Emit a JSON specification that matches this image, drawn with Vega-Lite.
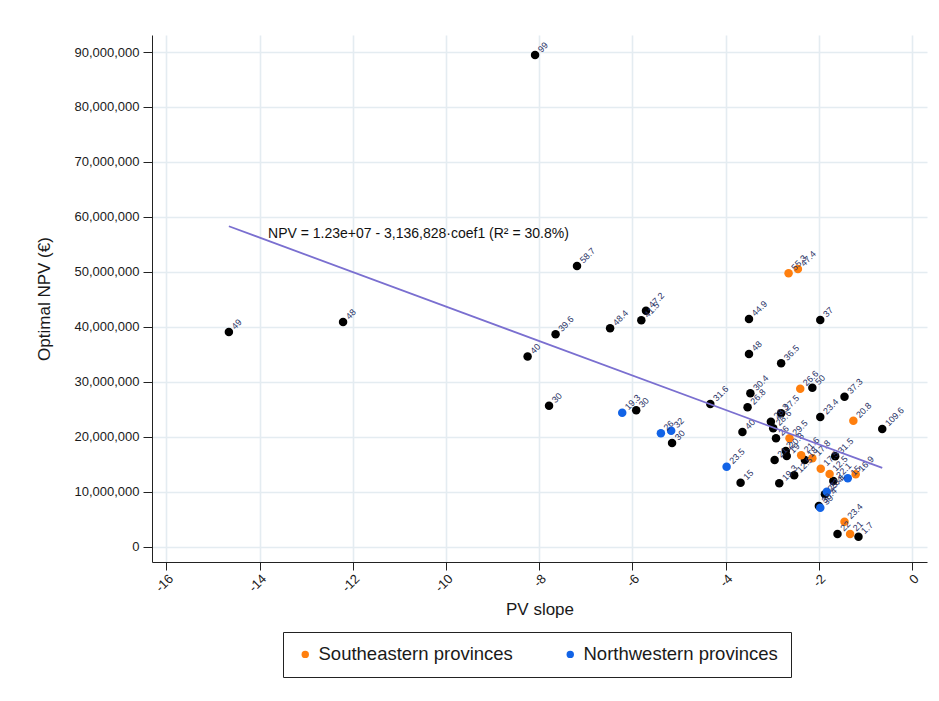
{
  "$schema": "https://vega.github.io/schema/vega-lite/v6.json",
  "width": 775,
  "height": 527,
  "autosize": {"type": "none"},
  "padding": {"left": 152, "top": 35, "right": 12, "bottom": 139},
  "background": "white",
  "config": {
    "font": "Liberation Sans",
    "view": {"stroke": null},
    "axis": {
      "domainColor": "#222222",
      "tickColor": "#222222",
      "gridColor": "#e4ecf1",
      "gridWidth": 1.6,
      "labelColor": "#1a1a1a",
      "labelFontSize": 13,
      "titleColor": "#1a1a1a",
      "titleFontSize": 17,
      "titleFontWeight": "normal",
      "tickSize": 8
    },
    "legend": {
      "labelFontSize": 18.5,
      "labelColor": "#1a1a1a",
      "labelLimit": 0,
      "strokeColor": "#222222",
      "padding": 13,
      "symbolType": "circle",
      "symbolSize": 55,
      "columnPadding": 48
    }
  },
  "datasets": {
    "points": [
      {"x": -8.09, "npv": 89460000, "g": "Other", "lab": "99"},
      {"x": -14.66, "npv": 39040000, "g": "Other", "lab": "49"},
      {"x": -12.21, "npv": 40860000, "g": "Other", "lab": "48"},
      {"x": -8.25, "npv": 34580000, "g": "Other", "lab": "40"},
      {"x": -7.65, "npv": 38620000, "g": "Other", "lab": "39.6"},
      {"x": -7.19, "npv": 51060000, "g": "Other", "lab": "58.7"},
      {"x": -6.48, "npv": 39720000, "g": "Other", "lab": "48.4"},
      {"x": -5.71, "npv": 42920000, "g": "Other", "lab": "47.2"},
      {"x": -5.81, "npv": 41170000, "g": "Other", "lab": "41.5"},
      {"x": -7.79, "npv": 25630000, "g": "Other", "lab": "30"},
      {"x": -5.92, "npv": 24790000, "g": "Other", "lab": "30"},
      {"x": -5.15, "npv": 18840000, "g": "Other", "lab": "30"},
      {"x": -4.33, "npv": 25940000, "g": "Other", "lab": "31.6"},
      {"x": -3.47, "npv": 27880000, "g": "Other", "lab": "30.4"},
      {"x": -3.53, "npv": 25340000, "g": "Other", "lab": "26.8"},
      {"x": -2.14, "npv": 28900000, "g": "Other", "lab": "50"},
      {"x": -1.45, "npv": 27270000, "g": "Other", "lab": "37.3"},
      {"x": -2.81, "npv": 24240000, "g": "Other", "lab": "27.5"},
      {"x": -3.03, "npv": 22720000, "g": "Other", "lab": "28.3"},
      {"x": -1.97, "npv": 23570000, "g": "Other", "lab": "23.4"},
      {"x": -0.64, "npv": 21390000, "g": "Other", "lab": "109.6"},
      {"x": -3.64, "npv": 20840000, "g": "Other", "lab": "40"},
      {"x": -2.98, "npv": 21510000, "g": "Other", "lab": "28.6"},
      {"x": -2.92, "npv": 19690000, "g": "Other", "lab": "26"},
      {"x": -2.71, "npv": 17380000, "g": "Other", "lab": "20.8"},
      {"x": -2.69, "npv": 16470000, "g": "Other", "lab": "19"},
      {"x": -2.30, "npv": 15740000, "g": "Other", "lab": "18"},
      {"x": -1.65, "npv": 16420000, "g": "Other", "lab": "31.5"},
      {"x": -2.95, "npv": 15740000, "g": "Other", "lab": "21.2"},
      {"x": -3.68, "npv": 11610000, "g": "Other", "lab": "15"},
      {"x": -2.85, "npv": 11500000, "g": "Other", "lab": "19.3"},
      {"x": -2.53, "npv": 12960000, "g": "Other", "lab": "12.5"},
      {"x": -1.69, "npv": 11920000, "g": "Other", "lab": "22.1"},
      {"x": -1.87, "npv": 9500000, "g": "Other", "lab": "25.4"},
      {"x": -2.00, "npv": 7370000, "g": "Other", "lab": "30.4"},
      {"x": -1.60, "npv": 2280000, "g": "Other", "lab": "22"},
      {"x": -1.15, "npv": 1780000, "g": "Other", "lab": "1.7"},
      {"x": -3.50, "npv": 41410000, "g": "Other", "lab": "44.9"},
      {"x": -1.97, "npv": 41230000, "g": "Other", "lab": "37"},
      {"x": -3.50, "npv": 35040000, "g": "Other", "lab": "48"},
      {"x": -2.81, "npv": 33350000, "g": "Other", "lab": "36.5"},
      {"x": -2.40, "npv": 28720000, "g": "Southeastern provinces", "lab": "26.6"},
      {"x": -1.26, "npv": 22900000, "g": "Southeastern provinces", "lab": "20.8"},
      {"x": -2.63, "npv": 19690000, "g": "Southeastern provinces", "lab": "29.5"},
      {"x": -2.38, "npv": 16600000, "g": "Southeastern provinces", "lab": "21.6"},
      {"x": -2.14, "npv": 16050000, "g": "Southeastern provinces", "lab": "17.8"},
      {"x": -1.96, "npv": 14160000, "g": "Southeastern provinces", "lab": "17.5"},
      {"x": -1.77, "npv": 13200000, "g": "Southeastern provinces", "lab": "12.5"},
      {"x": -1.21, "npv": 13140000, "g": "Southeastern provinces", "lab": "16.9"},
      {"x": -1.45, "npv": 4510000, "g": "Southeastern provinces", "lab": "23.4"},
      {"x": -1.33, "npv": 2280000, "g": "Southeastern provinces", "lab": "21"},
      {"x": -2.65, "npv": 49730000, "g": "Southeastern provinces", "lab": "55.3"},
      {"x": -2.45, "npv": 50510000, "g": "Southeastern provinces", "lab": "47.4"},
      {"x": -6.22, "npv": 24350000, "g": "Northwestern provinces", "lab": "19.3"},
      {"x": -5.39, "npv": 20600000, "g": "Northwestern provinces", "lab": "26"},
      {"x": -5.17, "npv": 21080000, "g": "Northwestern provinces", "lab": "32"},
      {"x": -3.98, "npv": 14520000, "g": "Northwestern provinces", "lab": "23.5"},
      {"x": -1.38, "npv": 12410000, "g": "Northwestern provinces", "lab": "15"},
      {"x": -1.83, "npv": 9970000, "g": "Northwestern provinces", "lab": "23.1"},
      {"x": -1.97, "npv": 7060000, "g": "Northwestern provinces", "lab": "30"}
    ],
    "fit": [
      {"x": -14.66, "npv": 58290000},
      {"x": -0.64, "npv": 14310000}
    ],
    "note": [
      {"x": -13.82, "npv": 56900000, "text": "NPV = 1.23e+07 - 3,136,828·coef1 (R² = 30.8%)"}
    ]
  },
  "encoding": {
    "x": {
      "field": "x",
      "type": "quantitative",
      "scale": {"domain": [-16.31, 0.32], "nice": false, "zero": false},
      "axis": {
        "title": "PV slope",
        "values": [-16, -14, -12, -10, -8, -6, -4, -2, 0],
        "labelExpr": "'' + datum.value",
        "labelAngle": -45,
        "labelPadding": 2,
        "titlePadding": 7
      }
    },
    "y": {
      "field": "npv",
      "type": "quantitative",
      "scale": {"domain": [-2820000, 93100000], "nice": false, "zero": false},
      "axis": {
        "title": "Optimal NPV (€)",
        "values": [0, 10000000, 20000000, 30000000, 40000000, 50000000, 60000000, 70000000, 80000000, 90000000],
        "format": ",.0f",
        "tickSize": 9,
        "labelPadding": 4,
        "titlePadding": 20
      }
    }
  },
  "layer": [
    {
      "data": {"name": "points"},
      "mark": {"type": "point", "filled": true, "opacity": 1, "size": 72},
      "encoding": {
        "color": {
          "field": "g",
          "type": "nominal",
          "scale": {
            "domain": ["Other", "Southeastern provinces", "Northwestern provinces"],
            "range": ["#000000", "#ff7f0e", "#1263e6"]
          },
          "legend": {
            "title": null,
            "orient": "none",
            "legendX": 131,
            "legendY": 597,
            "direction": "horizontal",
            "values": ["Southeastern provinces", "Northwestern provinces"]
          }
        }
      }
    },
    {
      "data": {"name": "points"},
      "mark": {
        "type": "text",
        "angle": -45,
        "align": "left",
        "baseline": "middle",
        "dx": 6,
        "fontSize": 9,
        "color": "#2a3366"
      },
      "encoding": {"text": {"field": "lab"}}
    },
    {
      "data": {"name": "fit"},
      "mark": {"type": "line", "color": "#7a6fd0", "strokeWidth": 1.8},
      "encoding": {}
    },
    {
      "data": {"name": "note"},
      "mark": {
        "type": "text",
        "align": "left",
        "baseline": "middle",
        "fontSize": 14,
        "color": "#111111"
      },
      "encoding": {"text": {"field": "text"}}
    }
  ]
}
